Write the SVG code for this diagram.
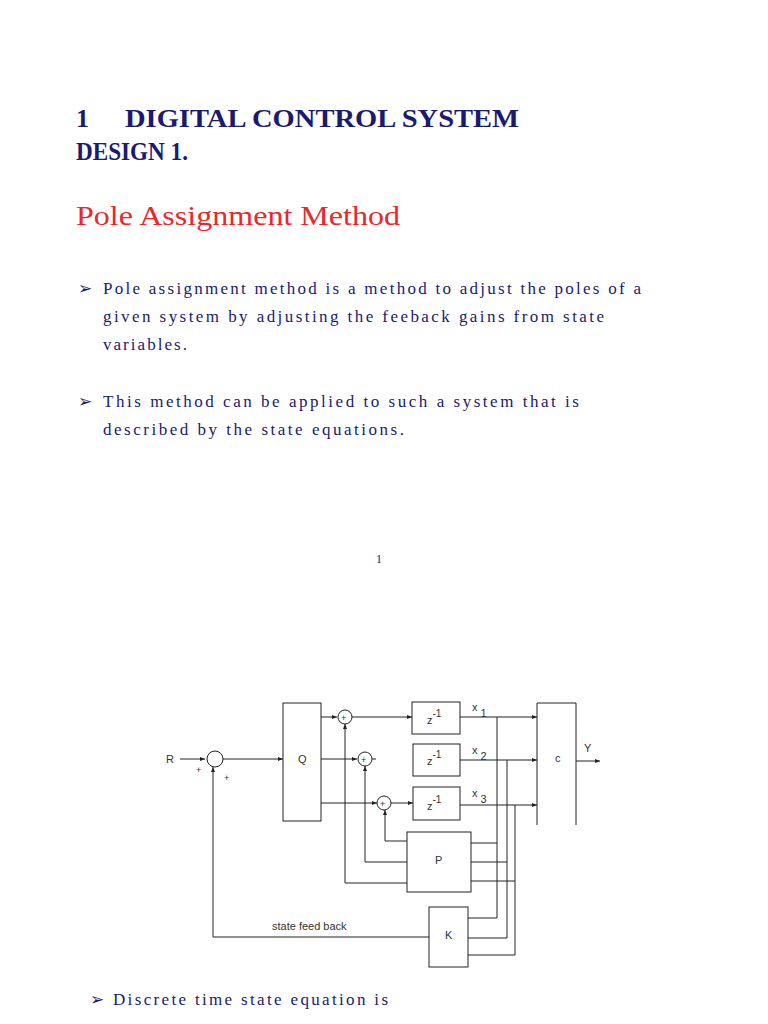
<svg xmlns="http://www.w3.org/2000/svg" width="768" height="1024" viewBox="0 0 768 1024">
<style>
.t{font-family:"Liberation Serif",serif;fill:#1a1a6e}
.h{font-size:26px;font-weight:bold}
.b{font-size:17px}
.d{font-family:"Liberation Sans",Arial,sans-serif;font-size:11px;fill:#333}
.bx{fill:#fff;stroke:#222;stroke-width:1}
.ln{fill:none;stroke:#222;stroke-width:1}
</style>
<defs><marker id="a" markerWidth="6" markerHeight="6" refX="5" refY="3" orient="auto"><path d="M0,1 L5,3 L0,5z" fill="#222"/></marker></defs>
<rect width="768" height="1024" fill="#fff"/>
<text class="t h" x="76" y="127">1</text>
<text class="t h" x="125" y="127" textLength="394" lengthAdjust="spacingAndGlyphs">DIGITAL CONTROL SYSTEM</text>
<text class="t h" x="76" y="160" textLength="112" lengthAdjust="spacingAndGlyphs">DESIGN 1.</text>
<text x="76" y="225" textLength="324" lengthAdjust="spacingAndGlyphs" style="font-family:'Liberation Serif',serif;font-size:28px;fill:#e8282a">Pole Assignment Method</text>
<g class="t b">
<text x="78" y="294">➢</text><text x="103" y="294" textLength="538">Pole assignment method is a method to adjust the poles of a</text>
<text x="103" y="322" textLength="501">given  system by adjusting the feeback gains from state</text>
<text x="103" y="350" textLength="84">variables.</text>
<text x="78" y="407">➢</text><text x="103" y="407" textLength="476">This  method can be applied to such a system that is</text>
<text x="103" y="435" textLength="301">described by the  state equations.</text>
<text x="376" y="563" style="font-size:12px">1</text>
<text x="90" y="1005">➢</text><text x="113" y="1005" textLength="275">Discrete time state equation is</text>
</g>
<g id="connectors" class="ln">
<path d="M180,759H205" marker-end="url(#a)"/>
<path d="M222,759H283" marker-end="url(#a)"/>
<path d="M321,717H337" marker-end="url(#a)"/>
<path d="M352,717H412" marker-end="url(#a)"/>
<path d="M321,759H357" marker-end="url(#a)"/>
<path d="M372,759H376"/>
<path d="M321,803H377" marker-end="url(#a)"/>
<path d="M391,803H413" marker-end="url(#a)"/>
<path d="M460,717H537" marker-end="url(#a)"/>
<path d="M460,760H537" marker-end="url(#a)"/>
<path d="M460,805H537" marker-end="url(#a)"/>
<path d="M576,761H600" marker-end="url(#a)"/>
<path d="M497,717V918H468M471,843H497"/>
<path d="M507,760V938H468M471,862H507"/>
<path d="M515,805V955H468M471,881H515"/>
<path d="M407,841H385V810" marker-end="url(#a)"/>
<path d="M407,862H365V766" marker-end="url(#a)"/>
<path d="M407,883H345V724" marker-end="url(#a)"/>
<path d="M429,937H213V767" marker-end="url(#a)"/>
</g>
<g id="sum0"><circle class="bx" cx="215" cy="759" r="8"/></g>
<g id="Q"><rect class="bx" x="283" y="703" width="38" height="118"/><text class="d" x="298" y="763">Q</text></g>
<g id="s1"><circle class="bx" cx="345" cy="717" r="7"/><text class="d" x="341" y="721" style="font-size:9px">+</text></g>
<g id="s2"><circle class="bx" cx="365" cy="759" r="7"/><text class="d" x="361" y="763" style="font-size:9px">+</text></g>
<g id="s3"><circle class="bx" cx="384" cy="803" r="7"/><text class="d" x="380" y="807" style="font-size:9px">+</text></g>
<g id="z1"><rect class="bx" x="412" y="702" width="48" height="32"/><text class="d" x="427" y="724">z<tspan dy="-7" font-size="10">-1</tspan></text></g>
<g id="z2"><rect class="bx" x="413" y="744" width="47" height="32"/><text class="d" x="427" y="765">z<tspan dy="-7" font-size="10">-1</tspan></text></g>
<g id="z3"><rect class="bx" x="413" y="787" width="47" height="33"/><text class="d" x="427" y="810">z<tspan dy="-7" font-size="10">-1</tspan></text></g>
<g id="C"><path class="ln" d="M537,825V703H576V825"/><text class="d" x="555" y="762">c</text></g>
<g id="P"><rect class="bx" x="407" y="832" width="64" height="60"/><text class="d" x="435" y="864">P</text></g>
<g id="K"><rect class="bx" x="429" y="907" width="39" height="60"/><text class="d" x="445" y="939">K</text></g>
<g class="d">
<text x="166" y="763">R</text><text x="196" y="773" style="font-size:9px">+</text><text x="224" y="781" style="font-size:9px">+</text>
<text x="472" y="711">x<tspan dx="3" dy="6">1</tspan></text>
<text x="472" y="754">x<tspan dx="3" dy="6">2</tspan></text>
<text x="472" y="797">x<tspan dx="3" dy="6">3</tspan></text>
<text x="584" y="752">Y</text>
<text x="272" y="930">state feed back</text>
</g>
</svg>
